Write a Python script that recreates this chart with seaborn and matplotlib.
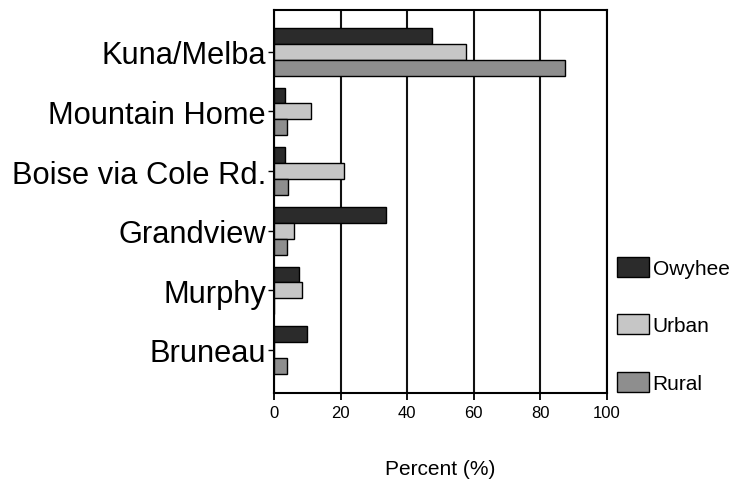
import numpy as np
import pandas as pd
import matplotlib
matplotlib.use("Agg")
import matplotlib.pyplot as plt
import seaborn as sns

sns.set_theme(style="white")
plt.rcParams["font.family"] = ["Liberation Sans", "DejaVu Sans"]

# data (percent)
places = ["Kuna/Melba", "Mountain Home", "Boise via Cole Rd.", "Grandview", "Murphy", "Bruneau"]
groups = ["Owyhee", "Urban", "Rural"]
owyhee = [47.5, 3.2, 3.2, 33.5, 7.4, 9.8]
urban  = [57.7, 11.0, 21.0, 5.9, 8.4, 0.0]
rural  = [87.6, 3.9, 4.2, 3.9, 0.0, 3.7]
colors = ["#2b2b2b", "#c6c6c6", "#8e8e8e"]

df = pd.DataFrame({
    "place": places * 3,
    "group": np.repeat(groups, len(places)),
    "pct": owyhee + urban + rural,
})

fig = plt.figure(figsize=(7.33, 4.81), dpi=100)
ax = fig.add_axes([0.3742, 0.181, 0.4535, 0.796])

sns.barplot(data=df, y="place", x="pct", hue="group", order=places,
            hue_order=groups, palette=colors, orient="h", width=0.8,
            edgecolor="black", linewidth=1.0, saturation=1, ax=ax, zorder=3)

ax.set_xlim(0, 100)
ax.set_ylim(5.72, -0.7)
ax.set_xticks([0, 20, 40, 60, 80, 100])
ax.xaxis.grid(True, color="#111111", linewidth=1.5, zorder=0)
ax.yaxis.grid(False)
ax.set_axisbelow(True)
for s in ax.spines.values():
    s.set_color("black")
    s.set_linewidth(1.5)
ax.tick_params(axis="x", bottom=True, direction="out", length=5, width=1.3,
               labelsize=12, pad=4, colors="black")
ax.tick_params(axis="y", left=True, direction="out", length=4, width=1.0,
               labelsize=22.2, pad=2, colors="black")
ax.set_ylabel("")
ax.set_xlabel("Percent (%)", fontsize=15, labelpad=28, color="black")

ax.legend_.remove()
handles, labels = ax.get_legend_handles_labels()
fig.legend(handles, labels, loc="center left", bbox_to_anchor=(0.842, 0.323),
           frameon=False, fontsize=15, labelspacing=1.75, handlelength=1.55,
           handleheight=1.1, handletextpad=0.15, borderpad=0, borderaxespad=0,
           labelcolor="black")

fig.savefig("out.png", dpi=100, facecolor="white")
